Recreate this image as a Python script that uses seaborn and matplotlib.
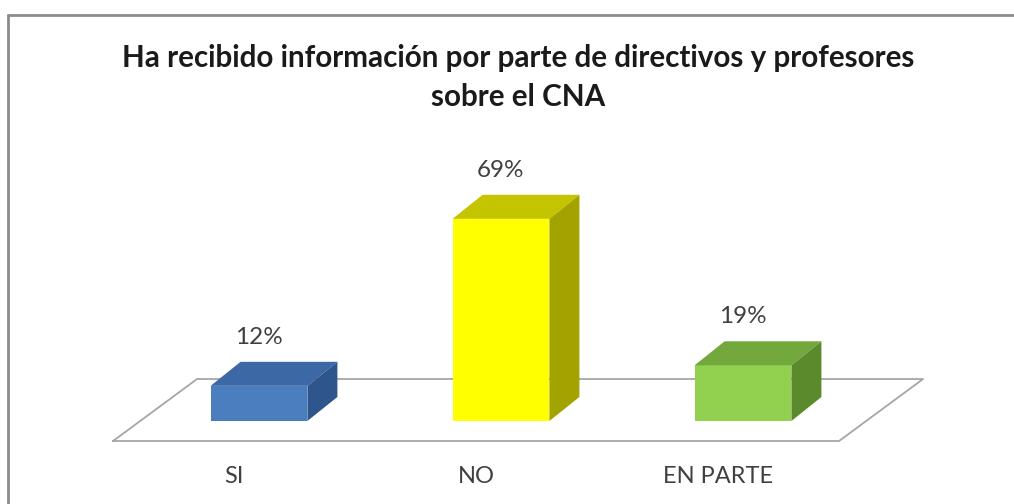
import matplotlib
matplotlib.use("Agg")
import matplotlib.pyplot as plt
import seaborn as sns
import pandas as pd
from matplotlib.patches import Polygon
from matplotlib.lines import Line2D

categories = ["SI", "NO", "EN PARTE"]
values = [12, 69, 19]
labels = ["12%", "69%", "19%"]
front_colors = ["#4a7ebf", "#ffff00", "#92d050"]
top_colors = ["#3c68a6", "#c4c400", "#72a83c"]
side_colors = ["#2f568c", "#a3a300", "#5a8a2c"]
title_lines = ["Ha recibido información por parte de directivos y profesores",
               "sobre el CNA"]

sns.set_theme(style="white")
plt.rcParams["font.family"] = ["Lato", "DejaVu Sans"]

df = pd.DataFrame({"cat": categories, "val": values})

fig = plt.figure(figsize=(10.14, 5.04), dpi=100)
fig.patch.set_facecolor("white")
ax = fig.add_axes([0, 0, 1, 1])
ax.set_facecolor("white")

BW = 0.40
sns.barplot(data=df, x="cat", y="val", hue="cat", palette=front_colors,
            width=BW, legend=False, ax=ax, saturation=1, edgecolor="none",
            zorder=3)

ax.set_xlim(-1.0702, 3.1198)
ax.set_ylim(-28.33, 143.69)
ax.axis("off")

# 3D depth of bars
DX, DY = 0.124, 8.2
for i, p in enumerate(ax.patches[:len(values)]):
    x0 = p.get_x(); w = p.get_width(); h = p.get_height(); y0 = p.get_y()
    top = Polygon([(x0, y0 + h), (x0 + w, y0 + h), (x0 + w + DX, y0 + h + DY),
                   (x0 + DX, y0 + h + DY)], closed=True,
                  facecolor=top_colors[i], edgecolor="none", zorder=3)
    side = Polygon([(x0 + w, y0), (x0 + w + DX, y0 + DY), (x0 + w + DX, y0 + h + DY),
                    (x0 + w, y0 + h)], closed=True,
                   facecolor=side_colors[i], edgecolor="none", zorder=3)
    ax.add_patch(top); ax.add_patch(side)
    ax.text(x0 + w / 2, y0 + h + DY + 8.3, labels[i], ha="center", va="center",
            fontsize=17.5, color="#404040")

# floor parallelogram
n = len(categories)
FX0, FY0 = 0.103, -6.83      # front edge offset
FDX, FDY = 0.347, 21.16      # floor depth
fl = -0.5 - FX0
fr = n - 0.5 - FX0
floor = [(fl, FY0), (fr, FY0), (fr + FDX, FY0 + FDY), (fl + FDX, FY0 + FDY), (fl, FY0)]
ax.add_line(Line2D([q[0] for q in floor], [q[1] for q in floor],
                   color="#a6a6a6", lw=1.3, zorder=1))

# category labels along the front edge of the floor
for i, c in enumerate(categories):
    ax.text(i - FX0 + 0.0, -18.8, c, ha="center", va="center",
            fontsize=17, color="#404040")

# title
fig.text(0.511, 1 - 58 / 504, title_lines[0], ha="center", va="center",
         fontsize=21.3, fontweight="bold", color="#1a1a1a")
fig.text(0.511, 1 - 97 / 504, title_lines[1], ha="center", va="center",
         fontsize=21.3, fontweight="bold", color="#1a1a1a")

# chart border (top and left visible)
fig.add_artist(Line2D([7.5 / 1014, 1], [1 - 14.5 / 504, 1 - 14.5 / 504],
                      transform=fig.transFigure, color="#8c8c8c", lw=2))
fig.add_artist(Line2D([7.5 / 1014, 7.5 / 1014], [0, 1 - 14.5 / 504],
                      transform=fig.transFigure, color="#8c8c8c", lw=2))

fig.savefig("out.png", dpi=100, facecolor="white")
